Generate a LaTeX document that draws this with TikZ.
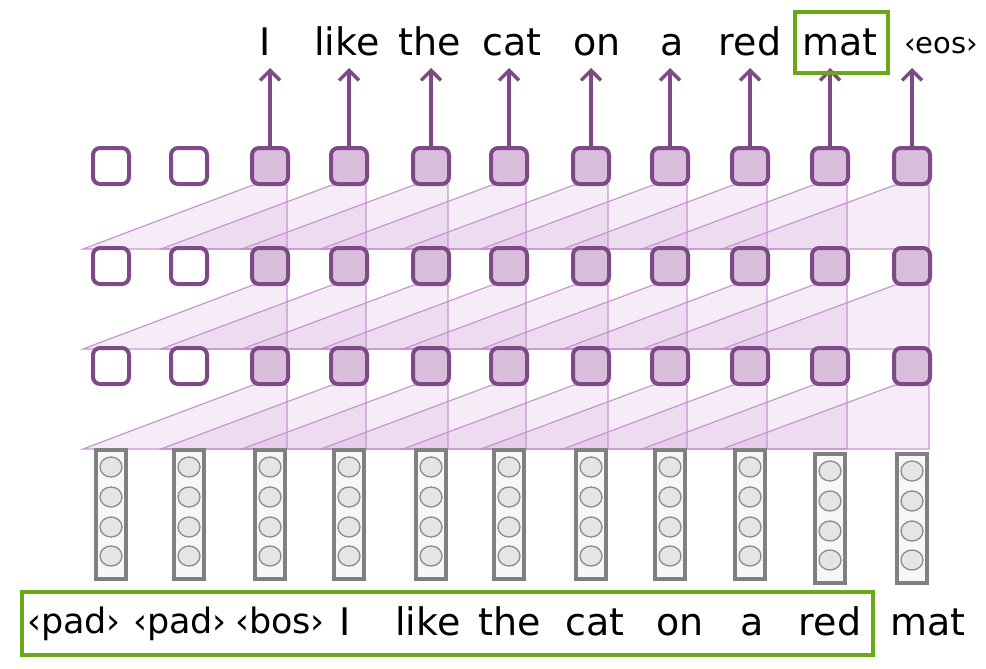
\documentclass[tikz,border=0pt]{standalone}
\usepackage{fontspec}
\setmainfont{DejaVu Sans}
\usetikzlibrary{arrows.meta,shapes.geometric}

\definecolor{layerline}{RGB}{125,73,135}
\definecolor{layerfill}{RGB}{217,190,220}
\definecolor{fieldfill}{RGB}{196,140,206}
\definecolor{boxgreen}{RGB}{106,168,24}
\definecolor{embgray}{RGB}{128,128,128}

\tikzset{
  unit/.style={draw=layerline, line width=4pt, rounded corners=7pt, fill=layerfill,
    minimum size=36pt, inner sep=0pt},
  padunit/.style={unit, fill=white},
  field/.style={fill=fieldfill, fill opacity=0.17, draw=fieldfill, draw opacity=0.9, line width=1.2pt},
  emb/.style={draw=embgray, line width=4pt, fill=black!3, minimum width=30pt,
    minimum height=129pt, inner sep=0pt},
  cell/.style={ellipse, draw=black!45, line width=1.3pt, fill=black!10, minimum width=22pt,
    minimum height=20pt, inner sep=0pt},
  word/.style={font=\fontsize{38}{40}\selectfont, anchor=base, inner sep=0pt},
  tok/.style={font=\fontsize{35}{37}\selectfont, anchor=base, inner sep=0pt},
  greenbox/.style={draw=boxgreen, line width=3.5pt},
}

\begin{document}
\begin{tikzpicture}[x=1pt, y=-1pt]
\useasboundingbox (0,0) rectangle (986,669);

% receptive fields between layers
\foreach \y in {166,266,366}
  \foreach \x/\xl in {270/83, 349/161, 431/242, 509/321, 591/403, 670/481, 750/563, 830/642, 912/722}
    \filldraw[field] (\x-17,\y+19) -- (\x+17,\y+19) -- (\x+17,\y+83) -- (\xl,\y+83) -- cycle;

% conv layers
\foreach \y [count=\r] in {166,266,366}
  \foreach \x [count=\i] in {111,189,270,349,431,509,591,670,750,830,912} {
    \ifnum\i<3
      \node[padunit] (s\r-\i) at (\x,\y) {};
    \else
      \node[unit] (s\r-\i) at (\x,\y) {};
    \fi
  }

% embeddings
\foreach \x/\dy [count=\i] in {111/0,189/0,270/0,349/0,431/0,509/0,591/0,670/0,750/0,830/4,912/4} {
  \node[emb] (e\i) at (\x,514+\dy) {};
  \foreach \cy in {467,497,527,556}
    \node[cell] at (\x,\cy+\dy) {};
}

% outputs
\foreach \x/\w/\n [count=\i from 3] in {265/I/1, 347/like/2, 430/the/3, 512/cat/4, 597/on/5, 672/a/6, 750/red/7, 840/mat/8} {
  \node[word] (out\n) at (\x,56) {\w};
}
\node[tok, font=\fontsize{29}{31}\selectfont] (out9) at (941,54) {‹eos›};
\foreach \x [count=\i from 3] in {270,349,431,509,591,670,750,830,912} {
  \coordinate (tip\i) at (\x,68);
  \draw[-{Straight Barb[length=10pt,width=20pt]}, draw=layerline, line width=3.5pt] (s1-\i.north) -- (tip\i);
}
\draw[greenbox] (795,12) rectangle (888,73);

% inputs
\node[tok] (in1) at (74,633) {‹pad›};
\node[tok] (in2) at (180,633) {‹pad›};
\node[tok] (in3) at (280,633) {‹bos›};
\foreach \x/\w [count=\i from 4] in {345/I, 428/like, 510/the, 595/cat, 680/on, 752/a, 830/red, 928/mat}
  \node[word] (in\i) at (\x,635) {\w};
\draw[greenbox] (22,592) rectangle (873,655);
\end{tikzpicture}
\end{document}
